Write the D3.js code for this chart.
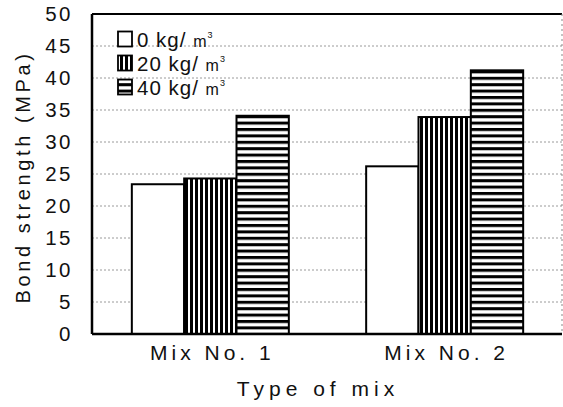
<!DOCTYPE html>
<html><head><meta charset="utf-8">
<script src="https://cdn.jsdelivr.net/npm/d3@7"></script>
<style>body{margin:0;background:#fff}svg{display:block}text{font-family:"Liberation Sans",Arial,sans-serif;fill:#111}</style>
</head><body>
<script>
const categories = ["Mix No. 1", "Mix No. 2"];
const seriesNames = ["0 kg/ ", "20 kg/ ", "40 kg/ "];
const values0 = [23.4, 26.2];
const values20 = [24.3, 33.9];
const values40 = [34.1, 41.2];
const yTicks = [0, 5, 10, 15, 20, 25, 30, 35, 40, 45, 50];

const W = 563, H = 407;
const m = {left: 92, top: 14, right: 562, bottom: 334};
const svg = d3.select("body").append("svg").attr("width", W).attr("height", H);
const defs = svg.append("defs");
const pv = defs.append("pattern").attr("id","pv").attr("patternUnits","userSpaceOnUse").attr("width",5).attr("height",10);
pv.append("rect").attr("width",5).attr("height",10).attr("fill","#fff");
pv.append("rect").attr("width",3).attr("height",10).attr("fill","#000");
const ph = defs.append("pattern").attr("id","ph").attr("patternUnits","userSpaceOnUse").attr("width",10).attr("height",6.4);
ph.append("rect").attr("width",10).attr("height",6.4).attr("fill","#fff");
ph.append("rect").attr("width",10).attr("height",3).attr("fill","#000");
const fills = ["#fff", "url(#pv)", "url(#ph)"];

const y = d3.scaleLinear().domain([0, 50]).range([m.bottom, m.top]);
const x0 = d3.scaleBand().domain(categories).range([m.left, 563]).paddingInner(0.33).paddingOuter(0.17);
const x1 = d3.scaleBand().domain(d3.range(3)).range([0, x0.bandwidth()]);

// gridlines
svg.append("g").selectAll("line").data(yTicks.filter(t => t > 0 && t < 50)).join("line")
  .attr("x1", m.left).attr("x2", m.right).attr("y1", d => y(d)).attr("y2", d => y(d))
  .attr("stroke", "#9a9a9a").attr("stroke-width", 1).attr("stroke-dasharray", "2,2");

// bars
const series = [values0, values20, values40];
const g = svg.append("g");
categories.forEach((c, ci) => {
  series.forEach((vals, si) => {
    g.append("rect")
      .attr("x", x0(c) + x1(si)).attr("width", x1.bandwidth())
      .attr("y", y(vals[ci])).attr("height", y(0) - y(vals[ci]))
      .attr("fill", fills[si]).attr("stroke", "#000").attr("stroke-width", 2);
  });
});

// frame
svg.append("line").attr("x1", m.left).attr("x2", m.right).attr("y1", m.top).attr("y2", m.top).attr("stroke","#000").attr("stroke-width",2);
svg.append("line").attr("x1", m.left).attr("x2", m.right).attr("y1", m.bottom).attr("y2", m.bottom).attr("stroke","#000").attr("stroke-width",2.5);
svg.append("line").attr("x1", m.left).attr("x2", m.left).attr("y1", m.top).attr("y2", m.bottom).attr("stroke","#000").attr("stroke-width",2.5);
svg.append("line").attr("x1", m.right).attr("x2", m.right).attr("y1", m.top).attr("y2", m.bottom).attr("stroke","#888").attr("stroke-width",1).attr("stroke-dasharray","2,3");

// y axis
const ya = d3.axisLeft(y).tickValues(yTicks).tickSize(0).tickPadding(19);
const yg = svg.append("g").attr("transform", `translate(${m.left},0)`).call(ya);
yg.select(".domain").remove();
yg.selectAll("text").attr("font-size", 20.5).attr("letter-spacing", 2.5).attr("fill", "#111").attr("font-family", '"Liberation Sans",Arial,sans-serif');

// x axis
const xa = d3.axisBottom(x0).tickSize(0).tickPadding(11);
const xg = svg.append("g").attr("transform", `translate(2,${m.bottom})`).call(xa);
xg.select(".domain").remove();
xg.selectAll("text").attr("font-size", 21).attr("letter-spacing", 4).attr("fill", "#111").attr("font-family", '"Liberation Sans",Arial,sans-serif');

// titles
svg.append("text").attr("x", 318).attr("y", 396).attr("text-anchor", "middle")
  .attr("font-size", 21).attr("letter-spacing", 5).text("Type of mix");
svg.append("text").attr("transform", "translate(30,177) rotate(-90)").attr("text-anchor", "middle")
  .attr("font-size", 20).attr("letter-spacing", 3.6).text("Bond strength (MPa)");

// legend
const lg = svg.append("g");
seriesNames.forEach((s, i) => {
  const cy = 39 + i * 24;
  lg.append("rect").attr("x", 118).attr("y", cy - 7.5).attr("width", 14).attr("height", 15)
    .attr("fill", fills[i]).attr("stroke", "#000").attr("stroke-width", 1.8);
  const t = lg.append("text").attr("x", 137).attr("y", cy + 7.5).attr("font-size", 20.5).attr("letter-spacing", 1);
  t.append("tspan").text(s);
  t.append("tspan").attr("font-size", 16).text("m");
  t.append("tspan").attr("font-size", 9).attr("dy", -9).text("3");
});
</script>
</body></html>
